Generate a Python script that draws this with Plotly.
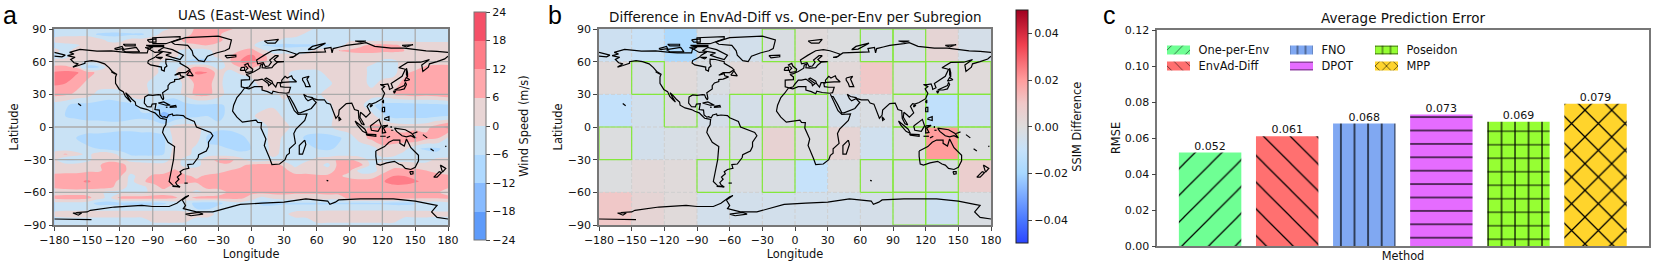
import plotly.graph_objects as go

W, H = 1661, 274
FONT = "DejaVu Sans"
TICK = 11.0
LABEL = 11.4

# ---------- data ----------
LON_TICKS = list(range(-180, 181, 30))
LAT_TICKS = list(range(-90, 91, 30))
WIND_LON = list(range(-180, 181, 10))
WIND_LAT = [90,85,80,75,70,65,60,55,50,40,30,20,10,0,-10,-20,-25,-30,-35,-40,-45,-50,-55,-60,-65,-70,-75,-80,-85,-90]
WIND_LEVELS = list(range(-24, 25, 6))
WIND = [
 [-2,-2,-2,-2,-2,-2,-2,-2,-2,-2,-1,1,3,7,8,8,7,4,3,3,3,3,2,2,-1,-2,-2,-2,-2,-2,-2,-2,-2,-2,-2,-2,-2],
 [-2,-2,-2,-2,-7,-8,-8,-7,-7,-2,2,3,5,7,9,7,3,2,2,2,2,2,2,-1,-1,-2,-2,-2,-2,-2,-2,-2,-2,-2,-2,-2,-2],
 [2,4,4,4,3,-2,-2,2,2,3,3,4,7,10,12,8,3,2,2,2,2,-1,-2,-2,-2,-2,-1,-1,-2,-2,-2,-2,-2,-2,-2,-2,-2],
 [-2,-2,-1,2,3,3,3,3,3,3,3,4,5,5,6,4,3,3,3,-7,-7,-8,-7,-7,-7,-7,-3,3,5,7,8,7,5,4,3,3,3],
 [2,-2,2,3,3,3,3,3,3,3,2,1,-2,-3,-2,3,5,6,8,3,-3,-3,-4,-3,3,5,6,7,8,8,7,7,6,5,3,3,3],
 [-2,-2,3,3,3,3,3,3,3,3,2,1,-2,-4,-3,2,5,10,14,8,3,3,2,3,3,3,3,3,3,3,3,3,3,3,3,3,3],
 [3,3,2,-1,2,3,3,3,2,3,-1,-3,-7,-8,-8,-4,5,12,15,8,3,3,2,2,3,3,3,3,3,3,-2,-2,3,3,3,3,3],
 [7,7,5,-8,-7,3,3,3,3,2,-2,-2,3,7,5,-3,2,6,7,4,3,3,3,2,2,3,3,3,3,-2,-3,-2,3,3,7,8,8],
 [13,14,13,8,5,3,3,3,3,2,-2,-1,6,13,12,3,-2,1,3,3,3,2,-2,-2,-2,2,3,3,3,-2,-3,-2,4,8,9,10,11],
 [13,12,8,5,3,3,3,3,2,-2,-3,-6,3,7,8,3,-5,-5,-3,3,5,2,-2,-3,-2,-2,3,3,3,-2,2,3,8,10,10,10,10],
 [8,7,5,3,-2,-3,-2,3,3,-2,-2,-3,2,8,8,3,-3,-4,-3,-2,-2,2,-2,-2,-2,3,3,3,2,3,3,6,8,9,8,9,11],
 [-3,-5,-8,-8,-8,-9,-8,-8,-4,-3,-9,-11,-8,-7,-7,-7,-5,-3,-2,-2,-1,-2,-2,-3,-3,-2,3,3,2,-5,-8,-9,-9,-9,-8,-8,-7],
 [-4,-6,-7,-8,-8,-8,-8,-7,-7,-8,-14,-11,-8,-7,-6,-7,-5,-3,-1,2,3,-1,-2,-1,-3,-3,3,3,2,3,-5,-8,-8,-8,-8,-7,-6],
 [-2,-2,-3,-3,-3,-4,-4,-4,-3,-3,-3,2,3,2,-3,-5,-5,-4,-3,-2,2,2,-2,-3,-3,-2,3,4,4,7,8,4,3,3,4,9,14],
 [-1,-2,-6,-8,-8,-8,-9,-9,-9,-9,-7,2,3,3,-7,-8,-8,-7,-5,-3,3,-1,-3,-7,-8,-8,-7,-3,3,8,12,10,9,13,8,7,-1],
 [-2,-3,-4,-5,-6,-8,-9,-9,-9,-8,-7,2,3,-2,-5,-5,-6,-7,-6,-5,3,-2,-4,-4,-6,-7,-5,-4,-4,-3,3,3,2,-5,-7,-7,-4],
 [2,7,3,-2,3,4,-2,-7,-7,-7,-6,3,2,-2,-2,-3,-4,-5,-5,-3,2,-2,-2,-3,-3,-3,-3,-3,-3,-2,2,2,-2,-3,-3,-5,-3],
 [2,-7,-7,-2,3,4,2,-2,-3,-3,-3,3,-2,-2,3,8,8,3,-3,-3,-2,-3,-3,-2,2,3,7,7,3,-2,-2,-3,-2,-3,-3,2,2],
 [3,3,3,3,5,9,9,3,3,2,2,3,-2,-2,3,4,5,5,7,8,8,5,-2,3,3,-2,8,8,8,-2,3,3,3,3,3,3,3],
 [3,4,4,5,5,8,10,3,3,3,3,7,3,3,3,3,6,7,8,8,8,8,3,3,3,3,8,7,-3,-3,3,8,8,8,6,5,3],
 [8,8,8,9,9,10,7,-2,3,7,8,9,7,5,7,9,7,7,8,9,9,8,8,8,7,7,7,4,3,3,8,12,12,10,8,7,7],
 [10,10,10,13,10,8,5,-2,5,8,9,10,8,7,8,12,9,9,9,10,9,8,9,9,8,9,9,9,8,9,11,16,16,13,10,9,9],
 [7,8,9,8,8,8,3,-2,-2,3,8,3,3,3,8,8,8,8,9,8,8,9,8,8,8,8,9,9,8,9,9,9,9,8,8,7,7],
 [3,3,3,3,2,-2,-2,-2,-2,2,3,3,3,-2,2,3,7,8,8,8,8,8,7,7,7,8,8,8,8,8,8,8,8,7,7,7,3],
 [8,9,9,8,3,-2,8,9,9,9,9,7,3,8,8,8,8,8,3,-2,2,3,3,3,3,3,3,8,8,9,9,9,8,8,7,7,8],
 [-2,-2,-2,-3,-8,-8,-8,-8,-8,-8,-7,-3,-3,-8,-9,-8,-3,-2,-4,-8,-8,-7,-7,-7,-7,-7,-7,-7,-7,-7,-7,-8,-8,-7,-3,-3,-2],
 [-2,-2,-2,-2,-2,-2,-2,-2,-2,-2,-2,-2,-3,-6,-7,-3,-2,-2,-2,-3,-3,-3,-3,-3,-3,-2,-2,-2,-2,-2,-2,-2,-2,-2,-2,-2,-2],
 [2,3,3,3,3,3,3,3,3,3,3,3,3,3,3,-2,-2,-2,-2,-2,-2,-2,3,4,4,4,4,4,4,4,4,4,3,3,3,2,2],
 [-2,-2,-2,-2,-2,-2,-2,-2,-2,2,3,3,2,-2,-2,-2,-2,-2,-2,-2,-2,-2,-2,-2,3,3,3,3,3,3,3,3,-2,-2,-2,-2,-2],
 [-2]*37,
]
assert len(WIND) == len(WIND_LAT)
for row in WIND:
    assert len(row) == 37

SSIM_LON = list(range(-165, 166, 30))
SSIM_LAT = [75, 45, 15, -15, -45, -75]
SSIM = [
 [-0.007,-0.009,-0.018,-0.003,-0.005,-0.002,0.001,-0.001,-0.003,-0.003,0.004,-0.004],
 [0.001,-0.003,0.001,-0.002,0.002,0.001,-0.002,0.002,0.010,-0.001,-0.002,0.001],
 [-0.011,-0.005,-0.001,-0.004,-0.004,-0.002,-0.002,-0.004,-0.002,-0.001,-0.012,-0.006],
 [-0.001,-0.005,-0.003,-0.002,-0.002,0.005,-0.001,0.004,-0.006,-0.001,0.020,-0.001],
 [-0.001,0.002,0.001,-0.002,-0.002,-0.002,-0.010,-0.001,-0.002,-0.002,-0.002,0.007],
 [0.010,0.004,0.001,-0.005,-0.005,-0.005,-0.005,-0.005,-0.004,-0.003,-0.007,-0.002],
]
SSIM_TICKS = [-0.04, -0.02, 0.0, 0.02, 0.04]
# lower-left corner (lon, lat) of the subregions outlined in green
OUTLINED = [(-180,-30),(-150,30),(-120,0),(-90,-60),(-60,0),(-60,-30),(-30,60),(-30,0),(-30,-60),
            (0,30),(0,0),(0,-30),(60,60),(90,60),(90,30),(120,30),(150,30),(90,0),(120,0),(150,0),
            (90,-30),(150,-30),(60,-60),(90,-60),(120,-60),(90,-90),(120,-90)]

METHODS = ["One-per-Env", "EnvAd-Diff", "FNO", "DPOT", "Poseidon", "MPP"]
RMSE = [0.052, 0.061, 0.068, 0.073, 0.069, 0.079]
BAR_COLORS = ["#6FFF94", "#FF7070", "#80A8F2", "#E56CFF", "#96FF33", "#FFD42C"]
BAR_HATCH = ["/", "\\", "|", "-", "+", "x"]
HATCH_SIZE = [18.9, 18.9, 13.6, 13.4, 13.5, 18.9]
HATCH_SOLID = [0.065, 0.065, 0.09, 0.09, 0.17, 0.13]
RMSE_TICKS = [0, 0.02, 0.04, 0.06, 0.08, 0.10, 0.12]

COAST = [
 # Americas
 [(-168,65.5),(-162,67),(-166,68.5),(-156.5,71.3),(-141,69.7),(-128,70),(-115,68.5),(-108,68),(-95,68),(-94,72),(-88,68.5),(-81,69),(-86,66),(-88,64),(-94,61),(-94.5,58.7),(-92,57),(-85,55.3),(-82,55),(-82,52.5),(-79.5,51.3),(-79,54.5),(-77,56),(-78,58.5),(-78,62.4),(-73,62),(-70,61),(-65,60),(-65,58.5),(-62,57),(-58,54.5),(-56,52.5),(-60,50),(-66,50),(-70,47.5),(-65,49),(-64.5,47),(-61,46),(-66,44),(-70,43.5),(-70,41.7),(-74,40.5),(-76,38),(-76,35),(-81,31.5),(-80,26.5),(-80.5,25),(-82,27),(-83,29.5),(-85,29.7),(-90,29),(-94,29.5),(-97.3,27.5),(-97.7,22),(-95,18.6),(-91.5,18.5),(-90.5,21),(-87,21.5),(-88,16),(-84,15.5),(-83.5,11),(-81,9),(-79.5,9.5),(-77,8.5),(-75.5,11),(-72,12),(-71.5,10.5),(-68,11),(-62,10.5),(-60,8.5),(-52,5),(-50,0),(-44,-2.5),(-37,-5),(-35,-8),(-39,-14),(-39,-18),(-41,-22),(-48,-25.5),(-48.5,-28),(-53,-34),(-58,-34.5),(-57,-38),(-62,-39),(-65,-41),(-64,-43),(-67.5,-46),(-66,-48),(-69,-51),(-68,-53),(-65,-55),(-71,-54),(-75,-50),(-74,-45),(-73,-38),(-71,-30),(-70,-18),(-76,-14),(-81,-5),(-80,-1),(-78,2),(-77.5,7),(-80,7.5),(-83,8),(-86,11),(-88,13),(-92,14.5),(-95,16),(-101,17.5),(-105.5,20),(-106,23),(-109,25.5),(-112.5,29.5),(-114.8,31.5),(-112,26.5),(-109.8,23),(-112,25),(-115,28),(-117,32.5),(-120.5,34.5),(-124,40),(-124,46),(-123,48.5),(-127,51),(-130,54.5),(-134,58),(-140,60),(-146,61),(-152,60),(-152,58.5),(-158,56.5),(-163,55),(-158,58),(-162,59),(-165,62),(-161,64),(-168,65.5)],
 # Greenland and Arctic Canada
 [(-73,78),(-60,82),(-30,83.5),(-18,80),(-20,72),(-24,70),(-32,68),(-40,65),(-43,60),(-48,61),(-53,66),(-54,70),(-58,75),(-70,76),(-73,78)],
 [(-80,73),(-72,71),(-62,66),(-65,62),(-72,64),(-78,66),(-73,68),(-85,70),(-80,73)],
 [(-90,76.5),(-78,76.5),(-65,81),(-65,83),(-90,82),(-90,76.5)],
 [(-118,71),(-105,73),(-102,69),(-115,69),(-118,71)],
 [(-125,72),(-118,74),(-117,72),(-123,71),(-125,72)],
 [(-96,75),(-80,75),(-80,73.8),(-92,73.8),(-96,75)],
 [(-117,76),(-106,76),(-106,74.5),(-115,74.5),(-117,76)],
 [(-97,73),(-90,73.5),(-93,71.5),(-97,73)],
 [(-95,80),(-87,81),(-87,78),(-93,78),(-95,80)],
 [(-87,64),(-81,64),(-83,62.5),(-87,64)],
 [(-59,47.7),(-56,51.5),(-53,47),(-59,47.7)],
 [(-85,22),(-80,23),(-74,20),(-78,20),(-85,22)],
 [(-74,19),(-69,19.8),(-68.5,18.5),(-74,18),(-74,19)],
 [(-78,18.3),(-76.5,18)],
 [(-158.2,21.6),(-155.5,19.5)],
 [(-128,50.8),(-124,48.5)],
 [(-61,-51.5),(-58,-51.5)],
 [(-72,-54.5),(-65,-55)],
 # Africa and Eurasia
 [(-6,35.8),(-2,35),(3,37),(10,37),(10,34),(15,32.5),(19,30.5),(20,32.8),(25,31.7),(32,31),(34.5,31.5),(36,36.5),(31,36.5),(27,37),(26.5,40),(29,41),(36,41.5),(41.5,41.5),(38,44.5),(37,47),(33,45),(31,46.5),(28,43),(28,41),(24,40.7),(23,38),(22.5,36.7),(20,39.5),(19,42),(14,45),(12.5,44),(18.5,40),(16,38),(15.5,40),(10,44),(6,43),(3,43),(0,39.5),(-2,36.7),(-5.5,36),(-9,37),(-9,43),(-1.5,43.5),(-1.5,46),(-4.5,48.3),(-1.5,49),(3,51),(8,54),(8.5,57),(10.5,57.5),(10,54.5),(14,54),(19,54.5),(21,57),(24,59.5),(30,60),(23,60),(21,62),(25,65.5),(22,65.5),(17,61.5),(18.5,59.5),(16,56),(13,55.5),(11,59),(6,58),(5,61.5),(12,66),(19,70),(26,71),(32,70),(41,67),(40,65),(35,64),(38,64),(44,68),(54,68.5),(68,69),(67,72),(73,73),(74,68),(75,72),(81,73.5),(87,75),(100,76.5),(105,77.5),(113,74),(128,72.5),(140,72.5),(150,71),(160,70),(170,69.5),(180,68.5)],
 [(-180,68.5),(-175,67),(-170,66),(-173,64.5),(-180,65)],
 [(180,65),(177,62.5),(170,60),(163,58),(162,55),(157,51),(156,57),(163,62),(155,59.5),(143,59.3),(135,54.5),(141,53),(138,46.5),(132,43),(128,40),(129.5,36),(126.5,34.5),(126,37),(125,39.5),(121.5,39),(118,39),(122,37),(119.5,35),(122,31),(120,26),(114,22.5),(110,21),(108,21.5),(106,19),(109,13),(105,9),(103,11),(100,13.5),(99.5,9),(103.5,2),(101,3),(98.5,8),(98,15),(94.5,16),(92,22),(87,21.5),(80.5,15.5),(80,11),(77.5,8),(73,19),(72.5,21),(69,22),(67,25),(61,25),(57,26),(56,27),(51,28),(48,30),(50,26),(52,24),(56,26),(59.5,22.5),(55,17),(45,13),(43,13),(39,21),(35,28),(33.5,28),(32.5,30),(34,27),(37,21),(39.5,15),(43,11.5),(51,12),(49,6),(41,-2),(39,-6),(40.5,-15),(35,-20),(35,-24),(32.5,-26),(31,-30),(26,-34),(19,-34.5),(17,-29),(14.5,-23),(12,-17),(13.5,-11),(9,-1),(9.5,4),(6,4.3),(4.5,6.3),(-3,5),(-8,4.5),(-13,9),(-17,14.7),(-16,20),(-13,27),(-9.5,31),(-6,35.8)],
 [(47,45),(53,46.5),(51,44),(53,40),(54,37),(50,37),(49,40),(47,43),(47,45)],
 # Eurasian and Pacific islands
 [(-5,50),(1,51),(1.5,53),(-2,56),(-3,58.5),(-6,57),(-3,54),(-5,52),(-5,50)],
 [(-10,52),(-6,52),(-6,55),(-9,54.5),(-10,52)],
 [(-24,65.5),(-14,66),(-14,64.5),(-22,63.5),(-24,65.5)],
 [(12,79),(25,80.5),(22,77),(15,77),(12,79)],
 [(52,71),(56,74),(68,77),(58,71.5),(52,71)],
 [(95,79),(105,79),(100,78),(95,79)],
 [(138,75),(148,75.5),(142,73.5),(138,75)],
 [(142,54),(143,50),(143,46),(142,48),(142,54)],
 [(140,42),(142,45.5),(145,43.5),(141,42),(140,42)],
 [(131,34),(135,35.5),(140,38),(141,41),(142,39),(140,35),(136,34),(131,34)],
 [(130,33),(132,33),(131,31),(130,33)],
 [(121,25),(121,22),(120,23),(121,25)],
 [(109,20),(111,20),(109,18.3),(109,20)],
 [(80,9.5),(82,7),(80.5,6),(80,9.5)],
 [(95,5.5),(104,-2),(106,-6),(102,-4),(97,2),(95,5.5)],
 [(105,-6.5),(114,-7),(114,-8.5),(106,-7.5),(105,-6.5)],
 [(109,1),(117,7),(119,1),(116,-4),(110,-3),(109,1)],
 [(120,1),(125,1.5),(121,-1),(123,-5),(120,-5.5),(120,1)],
 [(120,18),(122,18),(122,14),(120,14),(120,18)],
 [(122,8),(126,9.5),(126,6),(122,7),(122,8)],
 [(131,-1),(141,-2.5),(147,-6),(150,-10),(146,-8),(142,-9),(138,-8),(133,-4),(131,-1)],
 [(114,-22),(122,-18),(126,-14),(130,-12),(136,-12),(136,-15),(140,-17.5),(142,-11),(146,-19),(153,-26),(153,-31),(150,-37),(146,-39),(141,-38),(138,-35),(135,-34),(131,-31.5),(124,-33),(118,-35),(115,-34),(114,-27),(114,-22)],
 [(145,-41),(148,-41),(148,-43),(146,-43.5),(145,-41)],
 [(173,-35),(178,-38),(175,-41.5),(174,-39),(173,-35)],
 [(172,-41),(174,-42),(170,-46),(167,-46),(172,-41)],
 [(164,-20),(167,-22)],
 [(49,-12),(50,-16),(47,-25),(44,-25),(44,-17),(49,-12)],
 [(69,-49),(70.5,-49.5),(69,-49)],
 [(157,-7),(161,-10)],
 [(177.5,-18),(178.5,-17.5)],
 [(148,-6),(152,-4.5)],
 [(124,-10),(127,-8.5)],
 [(118,-8.5),(123,-8.5)],
 [(128,-3),(130,-3)],
 [(128,1),(128,-1)],
 # Antarctica
 [(-180,-84.5),(-165,-84.5),(-146,-85)],
 [(-160,-78.5),(-150,-78),(-147,-76.5),(-125,-73.5),(-100,-72),(-90,-73),(-75,-73),(-68,-70),(-60,-64),(-57,-63),(-63,-67),(-60,-72),(-62,-75),(-50,-78),(-35,-78),(-20,-74),(-10,-71),(10,-70),(30,-69),(50,-66),(60,-67),(70,-68),(72,-71),(77,-69),(80,-67),(100,-66),(130,-66),(150,-68),(165,-71),(170,-72),(165,-78),(170,-83),(180,-84.5)],
 [(-60,-80),(-48,-78.5),(-44,-80),(-55,-81.5),(-60,-80)],
 [(-163,-79),(-155,-79),(-158,-81),(-163,-79)],
]

# ---------- helpers ----------
def xd(a, b): return [a / W, b / W]
def yd(top, bottom): return [1 - bottom / H, 1 - top / H]

def path_from(segments):
    xs, ys = [], []
    for seg in segments:
        xs += [p[0] for p in seg] + [None]
        ys += [p[1] for p in seg] + [None]
    return xs, ys

def grid_lines():
    segs = [[(x, -90), (x, 90)] for x in LON_TICKS[1:-1]]
    segs += [[(-180, y), (180, y)] for y in LAT_TICKS[1:-1]]
    return path_from(segs)

def outline_cells(cells, step=30):
    segs = [[(x, y), (x + step, y), (x + step, y + step), (x, y + step), (x, y)] for x, y in cells]
    return path_from(segs)

WIND_BANDS = ["#5E9BFA", "#88BBFF", "#AFD9FF", "#C9E2F5", "#E8D5D5", "#FFA8AC", "#FF7D88", "#F55068"]
wind_scale = []
for i, c in enumerate(WIND_BANDS):
    wind_scale += [[i / 8, c], [(i + 1) / 8, c]]

ssim_scale = [[0, "#2B45FF"], [0.1, "#4A78FF"], [0.3, "#A8D8FF"], [0.4, "#C6E2FA"], [0.5, "#DEDCDC"],
              [0.6, "#F0C8C8"], [0.7, "#FF9C9C"], [0.85, "#F04050"], [1, "#A00020"]]

tick_font = dict(size=TICK, family=FONT, color="#111")
title_font = dict(size=LABEL, family=FONT, color="#111")

fig = go.Figure()
# panel a
fig.add_trace(go.Contour(
    x=WIND_LON, y=WIND_LAT, z=WIND, xaxis="x", yaxis="y", zmin=-24, zmax=24,
    colorscale=wind_scale, autocontour=False,
    contours=dict(start=-24, end=24, size=6, coloring="fill", showlines=False),
    line=dict(width=0), hoverinfo="skip",
    colorbar=dict(x=473.5 / W, xanchor="left", y=1 - 12 / H, yanchor="top", len=228, lenmode="pixels",
                  thickness=12, thicknessmode="pixels", xpad=0, ypad=0, outlinecolor="#777", outlinewidth=1,
                  tickmode="array", tickvals=WIND_LEVELS, ticks="outside", ticklen=4, tickcolor="#444",
                  tickfont=tick_font, title=dict(text="Wind Speed (m/s)", side="right", font=title_font))))
gx, gy = grid_lines()
fig.add_trace(go.Scatter(x=gx, y=gy, mode="lines", line=dict(color="#ABABAB", width=1.3), showlegend=False, hoverinfo="skip", xaxis="x", yaxis="y"))
cx, cy = path_from(COAST)
fig.add_trace(go.Scatter(x=cx, y=cy, mode="lines", line=dict(color="black", width=1.2), showlegend=False, hoverinfo="skip", xaxis="x", yaxis="y"))
# panel b
fig.add_trace(go.Heatmap(
    x=SSIM_LON, y=SSIM_LAT, z=SSIM, xaxis="x2", yaxis="y2", zmin=-0.05, zmax=0.05, colorscale=ssim_scale, hoverinfo="skip",
    colorbar=dict(x=1016 / W, xanchor="left", y=1 - 10.3 / H, yanchor="top", len=233, lenmode="pixels",
                  thickness=11.5, thicknessmode="pixels", xpad=0, ypad=0, outlinecolor="#222", outlinewidth=1,
                  tickmode="array", tickvals=SSIM_TICKS, tickformat=".2f", ticks="outside", ticklen=4, tickcolor="#444",
                  tickfont=tick_font, title=dict(text="SSIM Difference", side="right", font=title_font))))
fig.add_trace(go.Scatter(x=gx, y=gy, mode="lines", line=dict(color="#CFCFCF", width=1, dash="4px,2px"), showlegend=False, hoverinfo="skip", xaxis="x2", yaxis="y2"))
ox, oy = outline_cells(OUTLINED)
fig.add_trace(go.Scatter(x=ox, y=oy, mode="lines", line=dict(color="#84E83C", width=1.2), showlegend=False, hoverinfo="skip", xaxis="x2", yaxis="y2"))
fig.add_trace(go.Scatter(x=cx, y=cy, mode="lines", line=dict(color="black", width=1.2), showlegend=False, hoverinfo="skip", xaxis="x2", yaxis="y2"))
# panel c
LEGEND_POS = [(0, 0), (0, 1), (1, 0), (1, 1), (2, 0), (2, 1)]
LEG_X = [1158.5, 1281.5, 1366.5]
LEG_Y = [35.5, 51.5]
for i, m in enumerate(METHODS):
    lname = "legend" if i == 0 else f"legend{i + 1}"
    fig.add_trace(go.Bar(
        x=[i], y=[RMSE[i]], name=m, width=0.81, xaxis="x3", yaxis="y3", legend=lname, showlegend=True,
        marker=dict(color=BAR_COLORS[i], line=dict(width=0),
                    pattern=dict(shape=BAR_HATCH[i], size=HATCH_SIZE[i], solidity=HATCH_SOLID[i], fgcolor="black",
                                 fgopacity=1, bgcolor=BAR_COLORS[i])),
        hoverinfo="skip"))
fig.add_trace(go.Scatter(
    x=list(range(len(METHODS))), y=RMSE, mode="text", text=[f"{v:.3f}" for v in RMSE], textposition="top center",
    textfont=dict(size=TICK, family=FONT, color="#111"), cliponaxis=False, showlegend=False, hoverinfo="skip",
    xaxis="x3", yaxis="y3"))

axis_common = dict(showline=True, mirror=True, linecolor="#777", linewidth=1.5, ticks="outside", ticklen=4, tickwidth=1,
                   tickcolor="#444", showgrid=False, zeroline=False, tickfont=tick_font, tickangle=0)
layout = dict(
    width=W, height=H, margin=dict(l=0, r=0, t=0, b=0, autoexpand=False), paper_bgcolor="white", plot_bgcolor="white",
    barmode="overlay", font=dict(family=FONT, size=TICK),
    xaxis=dict(domain=xd(54.3, 448), range=[-180, 180], tickvals=LON_TICKS, anchor="y", title=dict(text="Longitude", font=title_font, standoff=4), **axis_common),
    yaxis=dict(domain=yd(29, 225), range=[-90, 90], tickvals=LAT_TICKS, anchor="x", title=dict(text="Latitude", font=title_font, standoff=2), **axis_common),
    xaxis2=dict(domain=xd(599, 991), range=[-180, 180], tickvals=LON_TICKS, anchor="y2", title=dict(text="Longitude", font=title_font, standoff=4), **axis_common),
    yaxis2=dict(domain=yd(29, 225), range=[-90, 90], tickvals=LAT_TICKS, anchor="x2", title=dict(text="Latitude", font=title_font, standoff=3), **axis_common),
    xaxis3=dict(domain=xd(1157.3, 1648.7), range=[-0.685, 5.69], showticklabels=False, anchor="y3",
                title=dict(text="Method", font=title_font, standoff=5),
                **{k: v for k, v in axis_common.items() if k != "ticks"}, ticks=""),
    yaxis3=dict(domain=yd(30, 246), range=[0, 0.12], tickvals=RMSE_TICKS, tickformat=".2f", anchor="x3",
                title=dict(text="RMSE", font=title_font, standoff=2), **axis_common),
    annotations=[
        dict(text="UAS (East-West Wind)", x=251, y=15, font=dict(size=13.5, family=FONT, color="#111")),
        dict(text="Difference in EnvAd-Diff vs. One-per-Env per Subregion", x=795, y=17, font=dict(size=13.5, family=FONT, color="#111")),
        dict(text="Average Prediction Error", x=1403, y=18, font=dict(size=13.5, family=FONT, color="#111")),
        dict(text="a", x=10, y=15.5, font=dict(size=25, family="Liberation Sans", color="black")),
        dict(text="b", x=555, y=15.5, font=dict(size=25, family="Liberation Sans", color="black")),
        dict(text="c", x=1109, y=15.5, font=dict(size=25, family="Liberation Sans", color="black")),
    ],
)
for a in layout["annotations"]:
    a.update(x=a["x"] / W, y=1 - a["y"] / H, xref="paper", yref="paper", showarrow=False, xanchor="center", yanchor="middle")
for i, (c, r) in enumerate(LEGEND_POS):
    lname = "legend" if i == 0 else f"legend{i + 1}"
    layout[lname] = dict(x=LEG_X[c] / W, y=1 - LEG_Y[r] / H, xanchor="left", yanchor="top", bgcolor="rgba(0,0,0,0)",
                         borderwidth=0, font=dict(size=11.4, family=FONT, color="#111"))
fig.update_layout(**layout)

POST = """
document.body.style.margin='0';document.body.style.overflow='hidden';
var gd=document.getElementById('{plot_id}');
function widenSwatches(){gd.querySelectorAll('g.legendpoints path').forEach(function(p){p.setAttribute('d','M11.5,4.4H-11.5V-4.4H11.5Z');});}
widenSwatches();setInterval(widenSwatches,50);
"""
fig.write_html("out.html", post_script=POST, config={"displayModeBar": False})
